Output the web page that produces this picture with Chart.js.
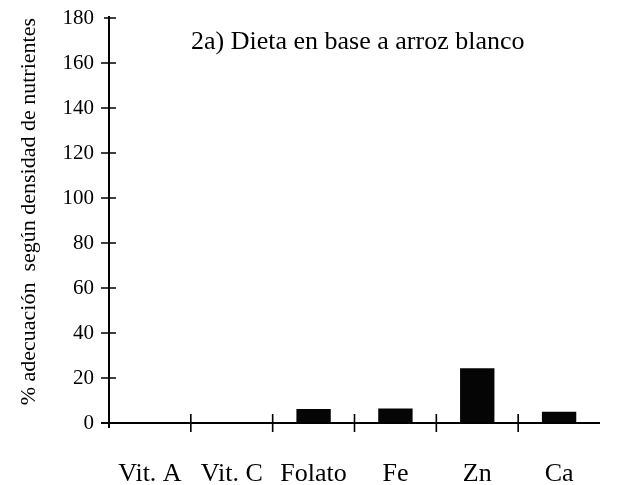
<!DOCTYPE html>
<html>
<head>
<meta charset="utf-8">
<script src="https://cdn.jsdelivr.net/npm/chart.js@4.4.0/dist/chart.umd.min.js"></script>
<style>
  html, body { margin: 0; padding: 0; background: #fff; }
  #wrap { width: 618px; height: 485px; }
</style>
</head>
<body>
<div id="wrap"><canvas id="chart"></canvas></div>
<script>
// --- data ---
const nutrientes = ["Vit. A", "Vit. C", "Folato", "Fe", "Zn", "Ca"];
const adecuacion = [0.4, 0.4, 6.2, 6.5, 24.3, 5];
const yTicks = [0, 20, 40, 60, 80, 100, 120, 140, 160, 180];

const tituloGrafico = "2a) Dieta en base a arroz blanco";
const tituloEjeY = "% adecuación  según densidad de nutrientes";

const serif = "'Liberation Serif', 'Times New Roman', serif";

// axes with ticks that cross the line, as in the printed figure
const axisPlugin = {
    id: "crossAxes",
    afterDatasetsDraw(chart) {
        const { ctx, chartArea } = chart;
        const x = chart.scales.x, y = chart.scales.y;
        const y0 = y.getPixelForValue(0);
        ctx.save();
        ctx.strokeStyle = "#000";
        ctx.lineWidth = 2;
        ctx.beginPath();
        // y axis
        ctx.moveTo(chartArea.left, chartArea.top - 2);
        ctx.lineTo(chartArea.left, y0 + 5);
        // x axis
        ctx.moveTo(chartArea.left - 8, y0);
        ctx.lineTo(chartArea.right, y0);
        ctx.stroke();

        ctx.lineWidth = 1.6;
        ctx.beginPath();
        yTicks.forEach(v => {
            const py = y.getPixelForValue(v);
            const l = v === 180 ? 5 : 8;
            ctx.moveTo(chartArea.left - l, py);
            ctx.lineTo(chartArea.left + 7, py);
        });
        for (let i = 1; i < nutrientes.length; i++) {
            const px = x.getPixelForValue(i - 0.5);
            ctx.moveTo(px, y0 - 9);
            ctx.lineTo(px, y0 + 9);
        }
        ctx.stroke();

        ctx.fillStyle = "#000";
        ctx.font = "26px " + serif;
        ctx.textAlign = "left";
        ctx.textBaseline = "middle";
        ctx.fillText(tituloGrafico, 191, 42);
        ctx.restore();
    }
};

new Chart(document.getElementById("chart"), {
    type: "bar",
    data: {
        labels: nutrientes,
        datasets: [{
            data: adecuacion,
            backgroundColor: "#050505",
            borderWidth: 0,
            barPercentage: 0.42,
            categoryPercentage: 1
        }]
    },
    options: {
        responsive: true,
        maintainAspectRatio: false,
        animation: false,
        layout: { padding: { top: 18, right: 18, left: 0, bottom: 0 } },
        plugins: {
            legend: { display: false },
            tooltip: { enabled: false }
        },
        scales: {
            x: {
                grid: { display: false, drawTicks: false },
                border: { display: false },
                ticks: {
                    color: "#000",
                    font: { family: serif, size: 26 },
                    padding: 36,
                    maxRotation: 0,
                    autoSkip: false
                },
                afterFit(scale) { scale.height = 62; }
            },
            y: {
                min: 0,
                max: 180,
                afterBuildTicks(scale) { scale.ticks = yTicks.map(v => ({ value: v })); },
                grid: { display: false, drawTicks: false },
                border: { display: false },
                ticks: {
                    color: "#000",
                    font: { family: serif, size: 21 },
                    padding: 15
                },
                title: {
                    display: true,
                    text: tituloEjeY,
                    align: "end",
                    color: "#000",
                    font: { family: serif, size: 22 },
                    padding: { top: 16, bottom: 0 }
                },
                afterFit(scale) {
                    scale.width = 109;
                    scale.paddingTop = 0;
                    scale.paddingBottom = 0;
                }
            }
        }
    },
    plugins: [axisPlugin]
});
</script>
</body>
</html>
